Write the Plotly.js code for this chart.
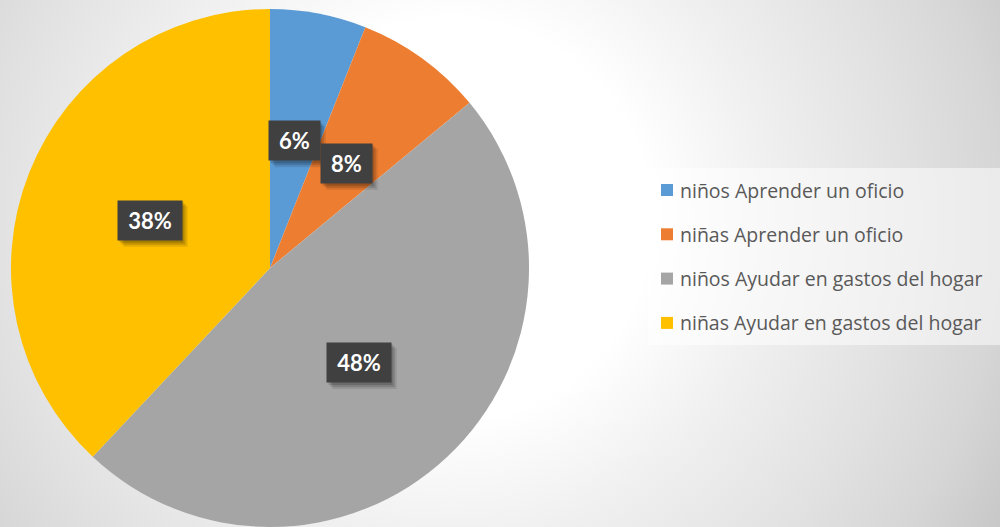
<!DOCTYPE html>
<html>
<head>
<meta charset="utf-8">
<script src="https://cdn.plot.ly/plotly-3.0.1.min.js"></script>
<style>
  html, body { margin: 0; padding: 0; }
  body {
    width: 1000px; height: 527px; overflow: hidden;
    background: radial-gradient(circle at 450px 220px, #ffffff 0px, #ffffff 200px, #f0f0f0 320px, #e2e2e2 450px, #d6d6d6 550px, #c4c4c4 650px);
  }
  #chart { width: 1000px; height: 527px; }
</style>
</head>
<body>
<div id="chart"></div>
<script>
const categories = [
  "niños Aprender un oficio",
  "niñas Aprender un oficio",
  "niños Ayudar en gastos del hogar",
  "niñas Ayudar en gastos del hogar"
];
const values = [6, 8, 48, 38];
const colors = ["#5B9BD5", "#ED7D31", "#A5A5A5", "#FFC000"];

const W = 1000, H = 527;
const domX = [0.01, 0.53], domY = [0, 0.983];
const px = x => x / W;
const py = y => 1 - y / H;

const total = values.reduce((a, b) => a + b, 0);
const pctLabels = values.map(v => Math.round(v / total * 100) + "%");

// pie geometry derived from domain
const cx = (domX[0] + domX[1]) / 2 * W;
const cy = (1 - (domY[0] + domY[1]) / 2) * H;
const R = Math.min((domX[1] - domX[0]) * W, (domY[1] - domY[0]) * H) / 2;

const annotations = [];
const shapes = [];
let cum = 0;
values.forEach((v, i) => {
  const mid = (cum + v / 2) / total * 2 * Math.PI;
  cum += v;
  const x = cx + 0.5 * R * Math.sin(mid);
  const y = cy - 0.5 * R * Math.cos(mid);
  const w = 13 * pctLabels[i].length + 25;
  const h = 41;
  // soft shadow layers
  [[6, 0.10], [4, 0.14], [2, 0.16]].forEach(([o, a]) => {
    shapes.push({
      type: "rect", xref: "paper", yref: "paper",
      x0: px(x - w / 2 + o), x1: px(x + w / 2 + o),
      y0: py(y + h / 2 + o), y1: py(y - h / 2 + o),
      fillcolor: "rgba(0,0,0," + a + ")", line: { width: 0 }, layer: "above"
    });
  });
  annotations.push({
    xref: "paper", yref: "paper", x: px(x), y: py(y),
    xanchor: "center", yanchor: "middle", showarrow: false,
    width: w, height: h - 2, borderpad: 0, bgcolor: "#404040",
    text: "<b>" + pctLabels[i] + "</b>",
    font: { family: "Lato, 'Open Sans', sans-serif", size: 22, color: "#ffffff" }
  });
});

// manual legend
shapes.push({
  type: "rect", xref: "paper", yref: "paper",
  x0: px(648), x1: px(1000), y0: py(345), y1: py(168),
  fillcolor: "rgba(255,255,255,0.5)", line: { width: 0 }, layer: "below"
});
const legTop = 190, legStep = 44.3;
categories.forEach((c, i) => {
  const yc = legTop + i * legStep;
  shapes.push({
    type: "rect", xref: "paper", yref: "paper",
    x0: px(661), x1: px(673), y0: py(yc + 6), y1: py(yc - 6),
    fillcolor: colors[i], line: { width: 0 }
  });
  annotations.push({
    xref: "paper", yref: "paper", x: px(678), y: py(yc),
    xanchor: "left", yanchor: "middle", showarrow: false,
    text: c, font: { family: "'Open Sans', sans-serif", size: 19.5, color: "#595959" }
  });
});

const data = [{
  type: "pie",
  labels: categories,
  values: values,
  sort: false,
  direction: "clockwise",
  rotation: 0,
  textinfo: "none",
  hoverinfo: "label+percent",
  marker: { colors: colors, line: { width: 0 } },
  domain: { x: domX, y: domY }
}];

const layout = {
  width: W, height: H,
  margin: { l: 0, r: 0, t: 0, b: 0 },
  paper_bgcolor: "rgba(0,0,0,0)",
  plot_bgcolor: "rgba(0,0,0,0)",
  showlegend: false,
  annotations: annotations,
  shapes: shapes
};

Plotly.newPlot("chart", data, layout, { displayModeBar: false, staticPlot: true });
</script>
</body>
</html>
